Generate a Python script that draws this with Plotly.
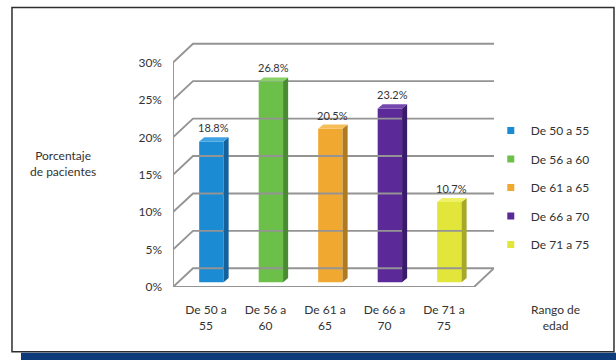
import plotly.graph_objects as go

# ---------------- data ----------------
categories = ["De 50 a 55", "De 56 a 60", "De 61 a 65", "De 66 a 70", "De 71 a 75"]
tick_labels = ["De 50 a<br>55", "De 56 a<br>60", "De 61 a<br>65", "De 66 a<br>70", "De 71 a<br>75"]
values = [18.8, 26.8, 20.5, 23.2, 10.7]
value_labels = ["18.8%", "26.8%", "20.5%", "23.2%", "10.7%"]
y_ticks = [0, 5, 10, 15, 20, 25, 30]
y_tick_labels = ["0%", "5%", "10%", "15%", "20%", "25%", "30%"]
y_title = "Porcentaje<br>de pacientes"
x_title = "Rango de<br>edad"

front_colors = ["#1B8BD3", "#6CC04A", "#F0A830", "#5B2A98", "#E2E63A"]
side_colors = ["#14629C", "#4A8C34", "#B07A1E", "#3A1A6A", "#A6A828"]
top_colors = ["#3FA3E3", "#86D266", "#F5BE5A", "#7548B0", "#EEF066"]

# ---------------- geometry (styling) ----------------
X0, X1 = -0.555, 4.84
WALL_DX, WALL_DY = 0.336, 2.5
BAR_SHIFT_X, BAR_BASE = 0.09, 0.65
BAR_W = 0.41
BAR_DX, BAR_DY = 0.085, 0.55
GRID_COLOR = "#949494"
TEXT_COLOR = "#333333"
FONT = "Lato"

fig = go.Figure()

# back wall / left wall grid
gx, gy = [], []
for t in y_ticks:
    gx += [X0, X0 + WALL_DX, X1, None]
    gy += [t, t + WALL_DY, t + WALL_DY, None]
gx += [X0, X0, None, X0, X1 - WALL_DX, X1]
gy += [y_ticks[0], y_ticks[-1], None, 0, 0, WALL_DY]
fig.add_trace(go.Scatter(x=gx, y=gy, mode="lines", line=dict(color=GRID_COLOR, width=1.9),
                         showlegend=False, hoverinfo="skip"))

# bars
for i, (cat, v) in enumerate(zip(categories, values)):
    xc = i + BAR_SHIFT_X
    hw = BAR_W / 2
    fig.add_trace(go.Bar(x=[xc], y=[v], base=[BAR_BASE], width=BAR_W,
                         marker=dict(color=front_colors[i], line=dict(width=0)),
                         showlegend=False, name=cat))
    top = BAR_BASE + v
    fig.add_trace(go.Scatter(
        x=[xc + hw, xc + hw + BAR_DX, xc + hw + BAR_DX, xc + hw, xc + hw],
        y=[BAR_BASE, BAR_BASE + BAR_DY, top + BAR_DY, top, BAR_BASE],
        fill="toself", fillcolor=side_colors[i], mode="lines", line=dict(width=0),
        showlegend=False, hoverinfo="skip"))
    fig.add_trace(go.Scatter(
        x=[xc - hw, xc + hw, xc + hw + BAR_DX, xc - hw + BAR_DX, xc - hw],
        y=[top, top, top + BAR_DY, top + BAR_DY, top],
        fill="toself", fillcolor=top_colors[i], mode="lines", line=dict(width=0),
        showlegend=False, hoverinfo="skip"))
    fig.add_annotation(x=xc + BAR_DX / 2, y=top + BAR_DY, text=value_labels[i],
                       showarrow=False, yanchor="bottom", yshift=1,
                       font=dict(family=FONT, size=11, color=TEXT_COLOR))

# legend entries
for i, cat in enumerate(categories):
    fig.add_trace(go.Scatter(x=[None], y=[None], mode="markers", name=cat,
                             legendgroup=cat,
                             marker=dict(symbol="square", size=7, color=front_colors[i])))

# axis titles
fig.add_annotation(xref="paper", yref="paper", x=-0.343, y=0.50, text=y_title,
                   showarrow=False, xanchor="center", yanchor="middle",
                   font=dict(family=FONT, size=12, color=TEXT_COLOR))
fig.add_annotation(xref="paper", yref="paper", x=1.193, y=-0.125, text=x_title,
                   showarrow=False, xanchor="center", yanchor="middle",
                   font=dict(family=FONT, size=12, color=TEXT_COLOR))

# frame and bottom band
fig.add_shape(type="rect", xref="paper", yref="paper", x0=-0.5016, x1=1.3738,
              y0=-0.2626, y1=1.1313, line=dict(color="#2E2E2E", width=1.5),
              fillcolor="rgba(0,0,0,0)", layer="below")
fig.add_shape(type="rect", xref="paper", yref="paper", x0=-0.4735, x1=1.40,
              y0=-0.2667, y1=-0.34, line=dict(width=0), fillcolor="#0E3B7A")

fig.update_layout(
    width=616, height=360,
    margin=dict(l=173, r=122, t=40, b=73),
    paper_bgcolor="white", plot_bgcolor="white",
    barmode="overlay",
    font=dict(family=FONT, size=12, color=TEXT_COLOR),
    showlegend=True,
    legend=dict(x=0.99, y=0.692, xanchor="left", yanchor="top",
                tracegroupgap=9.5, bgcolor="rgba(0,0,0,0)",
                font=dict(family=FONT, size=12, color=TEXT_COLOR)),
    xaxis=dict(range=[X0, X1], tickvals=list(range(len(categories))), ticktext=tick_labels,
               showgrid=False, zeroline=False, showline=False, ticks="",
               ticklabelstandoff=14, tickfont=dict(family=FONT, size=12, color=TEXT_COLOR),
               fixedrange=True),
    yaxis=dict(range=[0, 33], tickvals=y_ticks, ticktext=y_tick_labels,
               showgrid=False, zeroline=False, showline=False, ticks="",
               ticklabelstandoff=10, tickfont=dict(family=FONT, size=12, color=TEXT_COLOR),
               fixedrange=True),
)

fig.write_html("out.html")
